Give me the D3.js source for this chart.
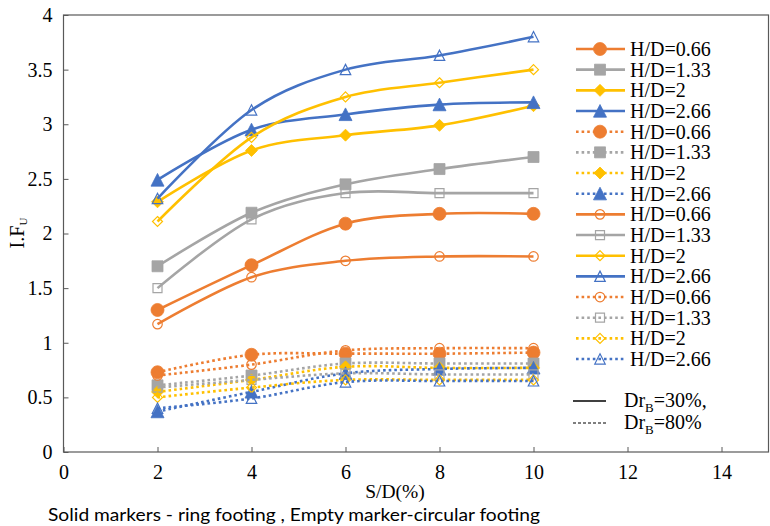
<!DOCTYPE html>
<html>
<head>
<meta charset="utf-8">
<script src="https://cdn.jsdelivr.net/npm/d3@7"></script>
<style>
  html, body { margin: 0; padding: 0; background: #fff; }
  svg { display: block; }
</style>
</head>
<body>
<svg id="chart" width="770" height="526"></svg>
<script>
// S/D (%) positions where I.F_U was measured
const sdPercent = [2, 4, 6, 8, 10];
const hdLabels = ["H/D=0.66", "H/D=1.33", "H/D=2", "H/D=2.66"];
const xTicks = [0, 2, 4, 6, 8, 10, 12, 14];
const yTicks = [0, 0.5, 1, 1.5, 2, 2.5, 3, 3.5, 4];

// Ring footing (solid markers), Dr_B = 30%
const ringDr30 = [
  [1.30, 1.71, 2.09, 2.18, 2.18],
  [1.70, 2.19, 2.45, 2.59, 2.70],
  [2.29, 2.76, 2.90, 2.99, 3.17],
  [2.49, 2.95, 3.09, 3.18, 3.20]
];
// Ring footing (solid markers), Dr_B = 80%
const ringDr80 = [
  [0.73, 0.89, 0.90, 0.90, 0.91],
  [0.61, 0.70, 0.81, 0.81, 0.81],
  [0.55, 0.66, 0.78, 0.77, 0.77],
  [0.37, 0.55, 0.72, 0.76, 0.77]
];
// Circular footing (empty markers), Dr_B = 30%
const circDr30 = [
  [1.17, 1.60, 1.75, 1.79, 1.79],
  [1.50, 2.13, 2.37, 2.37, 2.37],
  [2.11, 2.88, 3.25, 3.38, 3.50],
  [2.32, 3.13, 3.50, 3.63, 3.80]
];
// Circular footing (empty markers), Dr_B = 80%
const circDr80 = [
  [0.70, 0.80, 0.93, 0.95, 0.95],
  [0.59, 0.66, 0.72, 0.71, 0.71],
  [0.50, 0.59, 0.66, 0.66, 0.66],
  [0.40, 0.49, 0.64, 0.65, 0.65]
];

const colors = ["#ED7D31", "#A5A5A5", "#FFC000", "#4472C4"];
const DOTTED = "2.6 3";

const seriesGroups = [
  { values: ringDr30, dash: null, filled: true },
  { values: ringDr80, dash: DOTTED, filled: true },
  { values: circDr30, dash: null, filled: false },
  { values: circDr80, dash: DOTTED, filled: false }
];

// Marker shapes; size is passed as the square of the marker's full width
const half = s => Math.sqrt(s) / 2;
const shapeTypes = [
  d3.symbolCircle,
  { draw(ctx, s) { const r = half(s); ctx.rect(-r, -r, 2 * r, 2 * r); } },
  { draw(ctx, s) { const r = half(s); ctx.moveTo(0, -r); ctx.lineTo(r, 0); ctx.lineTo(0, r); ctx.lineTo(-r, 0); ctx.closePath(); } },
  { draw(ctx, s) { const r = half(s); ctx.moveTo(0, -r); ctx.lineTo(r, r * 0.95); ctx.lineTo(-r, r * 0.95); ctx.closePath(); } }
];
const filledWidth = [13, 11, 12, 13];
const openWidth = [9.5, 9, 10, 10.5];

function markerPath(i, filled) {
  const w = filled ? filledWidth[i] : openWidth[i];
  if (i === 0) return d3.symbol(d3.symbolCircle, Math.PI * (w / 2) * (w / 2))();
  return d3.symbol(shapeTypes[i], w * w)();
}

const svg = d3.select("#chart");
const x = d3.scaleLinear().domain([0, 15]).range([63.5, 768.5]);
const y = d3.scaleLinear().domain([0, 4]).range([452, 15]);

const serif = "'Liberation Serif', 'Times New Roman', serif";

// Axes with inward ticks
const yAxis = svg.append("g")
  .attr("transform", `translate(${x(0)},0)`)
  .call(d3.axisLeft(y).tickValues(yTicks).tickFormat(d3.format("")).tickSize(-5).tickPadding(11));
const xAxis = svg.append("g")
  .attr("transform", `translate(0,${y(0)})`)
  .call(d3.axisBottom(x).tickValues(xTicks).tickFormat(d3.format("")).tickSize(-5).tickPadding(13));
[yAxis, xAxis].forEach(g => {
  g.select(".domain").remove();
  g.selectAll(".tick line").attr("stroke", "#595959").attr("stroke-width", 1);
  g.selectAll(".tick text").attr("fill", "#000").style("font-family", serif).style("font-size", "20px");
});

// Plot frame
svg.append("rect")
  .attr("x", x(0)).attr("y", y(4))
  .attr("width", x(15) - x(0)).attr("height", y(0) - y(4))
  .attr("fill", "none").attr("stroke", "#595959").attr("stroke-width", 1.2);

// Series: smoothed lines with markers
const line = d3.line()
  .x((d, i) => x(sdPercent[i]))
  .y(d => y(d))
  .curve(d3.curveCardinal.tension(0));

const plot = svg.append("g");
seriesGroups.forEach(group => {
  group.values.forEach((vals, i) => {
    const g = plot.append("g");
    g.append("path")
      .attr("d", line(vals))
      .attr("fill", "none")
      .attr("stroke", colors[i])
      .attr("stroke-width", 2.6)
      .attr("stroke-dasharray", group.dash);
    g.selectAll("path.mk")
      .data(vals)
      .join("path")
      .attr("class", "mk")
      .attr("transform", (d, k) => `translate(${x(sdPercent[k])},${y(d)})`)
      .attr("d", markerPath(i, group.filled))
      .attr("fill", group.filled ? colors[i] : "none")
      .attr("stroke", colors[i])
      .attr("stroke-width", group.filled ? 0.8 : 1.2);
  });
});

// Legend
const legendRows = [];
seriesGroups.forEach(group => hdLabels.forEach((lab, i) => legendRows.push({ lab, i, group })));
const legend = svg.append("g");
legendRows.forEach((r, k) => {
  const cy = 49 + k * 20.67;
  legend.append("line")
    .attr("x1", 576).attr("x2", 625).attr("y1", cy).attr("y2", cy)
    .attr("stroke", colors[r.i]).attr("stroke-width", 2.6)
    .attr("stroke-dasharray", r.group.dash);
  legend.append("path")
    .attr("transform", `translate(600,${cy})`)
    .attr("d", markerPath(r.i, r.group.filled))
    .attr("fill", r.group.filled ? colors[r.i] : "none")
    .attr("stroke", colors[r.i])
    .attr("stroke-width", r.group.filled ? 0.8 : 1.2);
  legend.append("text")
    .attr("x", 630).attr("y", cy + 7)
    .style("font-family", serif).style("font-size", "20px")
    .text(r.lab);
});

// Density key
const drKeys = [
  { y: 401, dash: null, width: 1.6, label: "=30%," },
  { y: 423, dash: "3 2", width: 1.1, label: "=80%" }
];
drKeys.forEach(k => {
  legend.append("line")
    .attr("x1", 573).attr("x2", 606).attr("y1", k.y).attr("y2", k.y)
    .attr("stroke", "#000").attr("stroke-width", k.width)
    .attr("stroke-dasharray", k.dash);
  const t = legend.append("text")
    .attr("x", 624).attr("y", k.y + 6)
    .style("font-family", serif).style("font-size", "20px");
  t.append("tspan").text("Dr");
  t.append("tspan").attr("dy", 5).style("font-size", "13px").text("B");
  t.append("tspan").attr("dy", -5).text(k.label);
});

// Axis titles
const yTitle = svg.append("text")
  .attr("transform", "translate(24,233) rotate(-90)")
  .attr("text-anchor", "middle")
  .style("font-family", serif).style("font-size", "20px");
yTitle.append("tspan").text("I.F");
yTitle.append("tspan").attr("dy", 3).style("font-size", "11px").text("U");

svg.append("text")
  .attr("x", 395).attr("y", 498)
  .attr("text-anchor", "middle")
  .style("font-family", serif).style("font-size", "19.5px")
  .text("S/D(%)");

svg.append("text")
  .attr("x", 48).attr("y", 521)
  .attr("textLength", 492).attr("lengthAdjust", "spacingAndGlyphs")
  .style("font-family", "Lato, 'Open Sans', sans-serif").style("font-size", "17px")
  .text("Solid markers - ring footing , Empty marker-circular footing");
</script>
</body>
</html>
